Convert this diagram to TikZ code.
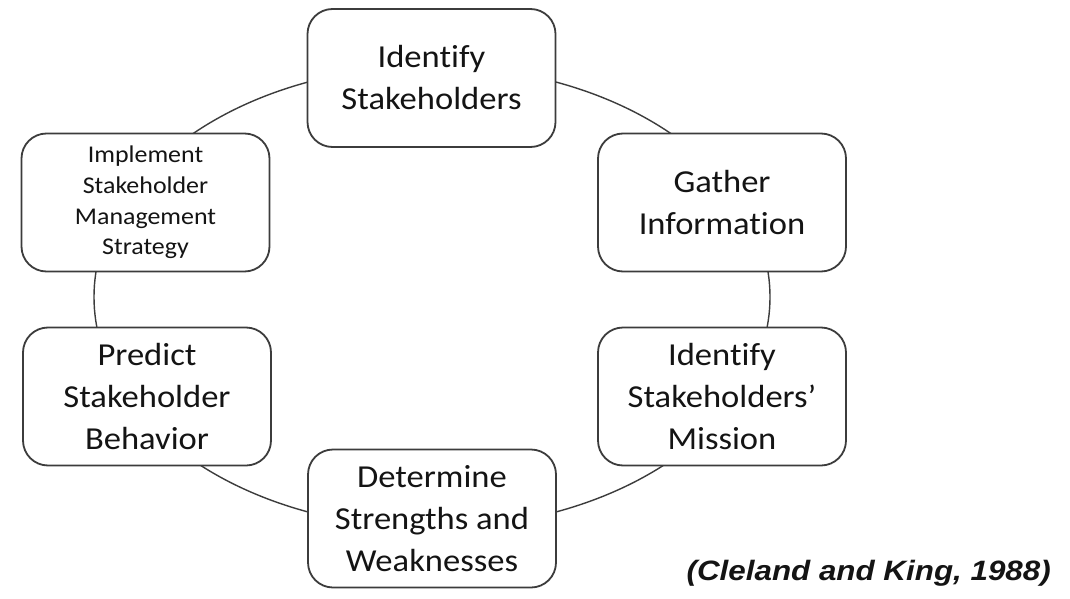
\documentclass[tikz,border=0pt]{standalone}
\usepackage{fontspec}
\setmainfont{Carlito}
\newfontfamily\boxfont[FakeStretch=1.08,Ligatures=NoCommon]{Carlito}
\newfontfamily\citefont[FakeStretch=1.12]{Liberation Sans}
\definecolor{edge}{HTML}{3C3C3C}
\definecolor{ink}{HTML}{141414}
\begin{document}
\begin{tikzpicture}[x=1pt,y=-1pt,
  stepbox/.style={draw=edge,line width=1.8pt,fill=white,rounded corners=25pt,
    minimum width=248pt,minimum height=138pt,align=center,text=ink,inner sep=0pt},
  bigtext/.style={font=\boxfont\fontsize{32}{42}\selectfont},
  smalltext/.style={font=\boxfont\fontsize{24}{30.7}\selectfont},
  ring/.style={draw=edge,line width=1.4pt}]
\useasboundingbox (0,0) rectangle (1070,599);
\fill[white] (0,0) rectangle (1070,599);
\coordinate (c) at (432,297);
\draw[ring] (c) ellipse [x radius=338pt, y radius=231pt];
\node[stepbox,bigtext] (ident) at (431.5,78) {Identify\\Stakeholders};
\node[stepbox,bigtext] (gather) at (722,202.5) {Gather\\Information};
\node[stepbox,bigtext] (mission) at (722,396.5) {Identify\\Stakeholders’\\Mission};
\node[stepbox,bigtext] (determ) at (432,518.5) {Determine\\Strengths and\\Weaknesses};
\node[stepbox,bigtext] (predict) at (147,396.5) {Predict\\Stakeholder\\Behavior};
\node[stepbox,smalltext] (impl) at (145.5,202.5) {Implement\\Stakeholder\\Management\\Strategy};
\node[font=\citefont\bfseries\itshape\fontsize{28}{32}\selectfont,text=ink,anchor=east,inner sep=0pt] (cite) at (1051,573) {(Cleland and King, 1988)};
\end{tikzpicture}
\end{document}
